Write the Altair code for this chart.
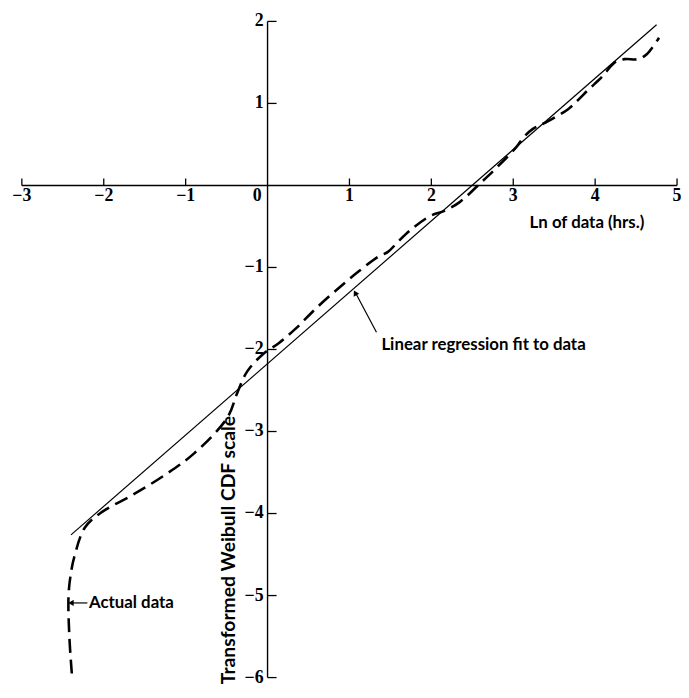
import altair as alt
import pandas as pd

# Actual data curve (Ln of data, transformed Weibull CDF), in drawing order
curve_x = [-2.39, -2.42, -2.43, -2.40, -2.36, -2.23, -2.02, -1.66, -1.27, -0.90, -0.49,
           -0.37, -0.25, -0.06, 0.14, 0.35, 0.59, 0.87, 1.11, 1.35, 1.47, 1.59, 1.75,
           1.99, 2.16, 2.35, 2.59, 2.80, 3.04, 3.12, 3.24, 3.40, 3.67, 3.80, 3.92,
           4.08, 4.24, 4.36, 4.52, 4.63, 4.78]
curve_y = [-5.95, -5.50, -5.00, -4.72, -4.53, -4.17, -3.98, -3.78, -3.54, -3.27, -2.83,
           -2.53, -2.27, -2.06, -1.92, -1.74, -1.50, -1.25, -1.05, -0.87, -0.81, -0.69, -0.54,
           -0.37, -0.31, -0.20, 0.02, 0.22, 0.47, 0.58, 0.69, 0.77, 0.93, 1.05, 1.17,
           1.32, 1.50, 1.54, 1.54, 1.60, 1.80]

# Linear regression fit
reg_x = [-2.40, 4.75]
reg_y = [-4.26, 1.96]

x_ticks = [-3, -2, -1, 1, 2, 3, 4, 5]
x_tick_labels = ["−3", "−2", "−1", "1", "2", "3", "4", "5"]
y_ticks = [-6, -5, -4, -3, -2, -1, 1, 2]
y_tick_labels = ["−6", "−5", "−4", "−3", "−2", "−1", "1", "2"]

x_title = "Ln of data (hrs.)"
y_title = "Transformed Weibull CDF scale"
reg_label = "Linear regression fit to data"
data_label = "Actual data"

XD = [-3, 5]
YD = [-6, 2]
xs = alt.Scale(domain=XD, nice=False, zero=False)
ys = alt.Scale(domain=YD, nice=False, zero=False)

curve = pd.DataFrame({"x": curve_x, "y": curve_y, "i": range(len(curve_x))})
reg = pd.DataFrame({"x": reg_x, "y": reg_y})
xt = pd.DataFrame({"x": x_ticks, "lab": x_tick_labels, "y": 0.0, "y2": 0.085})
yt = pd.DataFrame({"y": y_ticks, "lab": y_tick_labels, "x": 0.0, "x2": 0.11})

X = lambda f="x": alt.X(f"{f}:Q", scale=xs, axis=None)
Y = lambda f="y": alt.Y(f"{f}:Q", scale=ys, axis=None)

curve_layer = alt.Chart(curve).mark_line(
    color="black", strokeWidth=2.6, strokeDash=[14, 7], interpolate="catmull-rom"
).encode(x=X(), y=Y(), order="i:Q")

reg_layer = alt.Chart(reg).mark_line(color="black", strokeWidth=1.2).encode(x=X(), y=Y())

xaxis = alt.Chart(pd.DataFrame({"x": [XD[0]], "x2": [XD[1]], "y": [0]})).mark_rule(
    color="black", strokeWidth=1.4).encode(x=X(), x2="x2:Q", y=Y())
yaxis = alt.Chart(pd.DataFrame({"y": [YD[0]], "y2": [YD[1]], "x": [0]})).mark_rule(
    color="black", strokeWidth=1.4).encode(y=Y(), y2="y2:Q", x=X())

xtick_marks = alt.Chart(xt).mark_rule(color="black", strokeWidth=1.3).encode(
    x=X(), y=Y(), y2="y2:Q")
ytick_marks = alt.Chart(yt).mark_rule(color="black", strokeWidth=1.3).encode(
    y=Y(), x=X(), x2="x2:Q")

tick_font = dict(font="Liberation Serif", fontWeight="bold", fontSize=18, color="black")
xtick_text = alt.Chart(xt).mark_text(align="center", baseline="alphabetic", dy=16,
                                     **tick_font).encode(x=X(), y=Y(), text="lab:N")
ytick_text = alt.Chart(yt).mark_text(align="right", baseline="middle", dx=-4,
                                     **tick_font).encode(x=X(), y=Y(), text="lab:N")
zero_text = alt.Chart(pd.DataFrame({"x": [0], "y": [0], "lab": ["0"]})).mark_text(
    align="right", baseline="alphabetic", dx=-6, dy=16, **tick_font).encode(
    x=X(), y=Y(), text="lab:N")

ann_font = dict(font="Lato", fontWeight="bold", fontSize=17, color="black")
labels = pd.DataFrame({
    "x": [3.20, 1.39, -2.18],
    "y": [-0.46, -1.94, -5.09],
    "lab": [x_title, reg_label, data_label],
})
label_text = alt.Chart(labels).mark_text(align="left", baseline="middle", **ann_font).encode(
    x=X(), y=Y(), text="lab:N")

ytitle = alt.Chart(pd.DataFrame({"x": [-0.47], "y": [-6.08], "lab": [y_title]})).mark_text(
    align="left", baseline="middle", angle=270, font="Lato", fontWeight="bold",
    fontSize=19.5, color="black").encode(x=X(), y=Y(), text="lab:N")

arrows = pd.DataFrame({
    "x": [1.33, -2.20],
    "y": [-1.79, -5.09],
    "x2": [1.08, -2.40],
    "y2": [-1.32, -5.09],
})
arrow_lines = alt.Chart(arrows).mark_rule(color="black", strokeWidth=1.2).encode(
    x=X(), y=Y(), x2="x2:Q", y2="y2:Q")
heads = pd.DataFrame({"x": [1.07, -2.40], "y": [-1.31, -5.09], "ang": [332, 270]})
arrow_heads = alt.Chart(heads).mark_point(
    shape="triangle-up", filled=True, color="black", size=40, opacity=1).encode(
    x=X(), y=Y(), angle=alt.Angle("ang:Q", scale=None))

chart = alt.layer(
    xaxis, yaxis, xtick_marks, ytick_marks, reg_layer, curve_layer,
    xtick_text, ytick_text, zero_text, label_text, ytitle, arrow_lines, arrow_heads
).properties(
    width=662, height=663,
    padding={"left": 14, "top": 10, "right": 4, "bottom": 9},
    autosize=alt.AutoSizeParams(type="none"),
    background="white",
).configure_view(strokeWidth=0)

chart.save("out.html", embed_options={"renderer": "svg", "actions": False})
